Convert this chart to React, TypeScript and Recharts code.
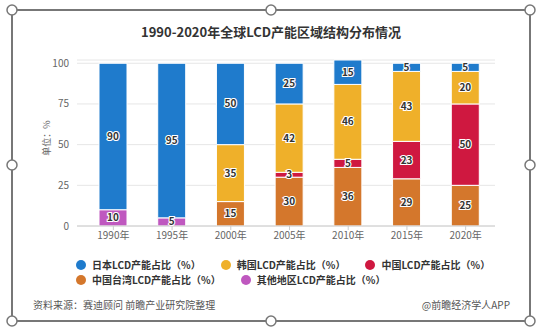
import React from 'react';
import { BarChart, Bar, XAxis, YAxis, CartesianGrid, LabelList } from 'recharts';

const years = ['1990年', '1995年', '2000年', '2005年', '2010年', '2015年', '2020年'];
const japan = [90, 95, 50, 25, 15, 5, 5];
const korea = [0, 0, 35, 42, 46, 43, 20];
const china = [0, 0, 0, 3, 5, 23, 50];
const taiwan = [0, 0, 15, 30, 36, 29, 25];
const other = [10, 5, 0, 0, 0, 0, 0];
const yTicks = [0, 25, 50, 75, 100];

// bottom-to-top stacking order
const series = [
  { key: 'other', name: '其他地区LCD产能占比（%）', color: '#bf58bf', values: other },
  { key: 'taiwan', name: '中国台湾LCD产能占比（%）', color: '#d4772c', values: taiwan },
  { key: 'china', name: '中国LCD产能占比（%）', color: '#cf1840', values: china },
  { key: 'korea', name: '韩国LCD产能占比（%）', color: '#efb02a', values: korea },
  { key: 'japan', name: '日本LCD产能占比（%）', color: '#1f7bcc', values: japan },
];
const legendRows = [['japan', 'korea', 'china'], ['taiwan', 'other']];

const data = years.map((year, i) => {
  const row: Record<string, any> = { year };
  series.forEach(s => { row[s.key] = s.values[i]; });
  return row;
});

const FONT = "'Noto Sans CJK SC', 'Noto Sans', sans-serif";

const SegmentLabel = (props: any) => {
  const { x, y, width, height, value } = props;
  if (!value) return null;
  return (
    <text
      x={x + width / 2}
      y={y + height / 2}
      dy={3.5}
      textAnchor="middle"
      fontSize={10}
      fontWeight="bold"
      fontFamily={FONT}
      fill="#333"
      stroke="#fff"
      strokeWidth={2.2}
      paintOrder="stroke"
    >
      {value}
    </text>
  );
};

const handles = [
  [12, 10], [271, 10], [530, 10],
  [12, 165], [530, 165],
  [12, 321], [271, 321], [530, 321],
];

export default function App() {
  return (
    <div style={{ position: 'absolute', left: 0, top: 0, width: 542, height: 334, background: '#fff', fontFamily: FONT }}>
      <div style={{ position: 'absolute', left: 0, width: 542, top: 22, textAlign: 'center', fontSize: 13, fontWeight: 'bold', color: '#333' }}>
        1990-2020年全球LCD产能区域结构分布情况
      </div>
      <div style={{ position: 'absolute', left: 0, top: 0 }}>
        <BarChart width={542} height={334} data={data} margin={{ top: 60, right: 47, left: 47, bottom: 88 }}>
          <CartesianGrid vertical={false} stroke="#e6e6e6" />
          <XAxis
            dataKey="year"
            padding={{ left: 7, right: 0 }}
            tick={{ fontSize: 10, fill: '#666', fontFamily: FONT }}
            tickLine={{ stroke: '#ccc' }}
            axisLine={{ stroke: '#ccc' }}
            tickSize={4}
            height={20}
          />
          <YAxis
            width={30}
            domain={[0, 100]}
            ticks={yTicks}
            axisLine={false}
            tickLine={false}
            tick={{ fontSize: 10, fill: '#666', fontFamily: FONT }}
            label={{ value: '单位：%', angle: -90, position: 'insideLeft', offset: 0, dx: 0, dy: -5, style: { fontSize: 9, fill: '#666', fontFamily: FONT, textAnchor: 'middle' } }}
          />
          {series.map(s => (
            <Bar
              key={s.key}
              dataKey={s.key}
              name={s.name}
              stackId="a"
              fill={s.color}
              stroke="#fff"
              strokeWidth={1}
              barSize={28}
              isAnimationActive={false}
            >
              <LabelList dataKey={s.key} content={SegmentLabel} />
            </Bar>
          ))}
        </BarChart>
      </div>
      <div style={{ position: 'absolute', left: 76, top: 257, fontSize: 10, color: '#333', fontWeight: 'bold' }}>
        {legendRows.map((row, ri) => (
          <div key={ri} style={{ display: 'flex', gap: 20, height: 15, alignItems: 'center' }}>
            {row.map(k => {
              const s = series.find(x => x.key === k)!;
              return (
                <div key={k} style={{ display: 'flex', alignItems: 'center' }}>
                  <span style={{ width: 10, height: 10, borderRadius: 5, background: s.color, marginRight: 6 }} />
                  <span>{s.name}</span>
                </div>
              );
            })}
          </div>
        ))}
      </div>
      <div style={{ position: 'absolute', left: 33, top: 297, fontSize: 10, color: '#555' }}>资料来源：赛迪顾问 前瞻产业研究院整理</div>
      <div style={{ position: 'absolute', right: 32, top: 297, fontSize: 10, color: '#555' }}>@前瞻经济学人APP</div>
      <svg width={542} height={334} style={{ position: 'absolute', left: 0, top: 0, pointerEvents: 'none' }}>
        <rect x={12} y={10} width={518} height={311} fill="none" stroke="#777" strokeWidth={2} />
        {handles.map(([cx, cy], i) => (
          <circle key={i} cx={cx} cy={cy} r={5} fill="#fff" stroke="#777" strokeWidth={1.5} />
        ))}
      </svg>
    </div>
  );
}
